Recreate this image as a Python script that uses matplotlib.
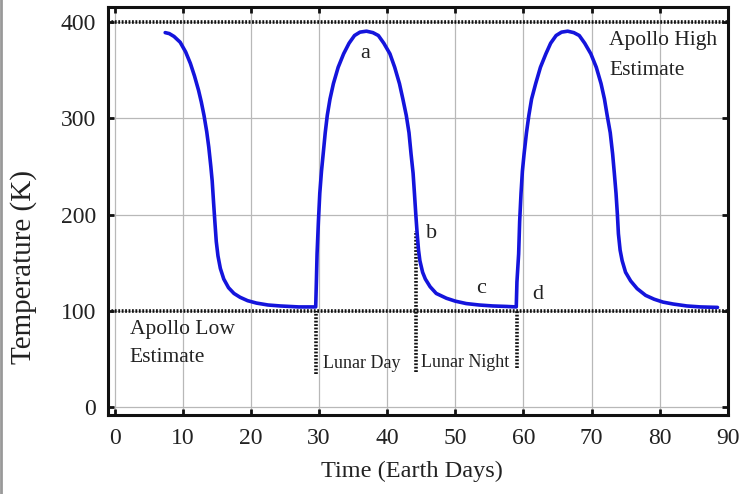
import matplotlib
matplotlib.use("Agg")
import matplotlib.pyplot as plt
from matplotlib.lines import Line2D

plt.rcParams['font.family'] = ['Liberation Serif', 'DejaVu Serif']

# surface temperature (day, K)
days = [7.4, 8.0, 8.7, 9.6, 10.4, 11.1, 11.7, 12.3, 12.7, 13.1, 13.5, 13.8, 14.1, 14.3, 14.5, 14.7, 14.9,
        15.15, 15.5, 16.0, 16.7, 17.5, 18.4, 19.5, 20.8, 22.5, 24.3, 27.0, 29.5,
        29.6, 29.7, 29.9, 30.1, 30.35, 30.6, 30.9, 31.2, 31.6, 32.1, 32.8, 33.6, 34.4, 35.2, 36.0, 36.95,
        37.9, 38.7, 39.5, 40.4, 41.1, 41.8, 42.3, 42.8, 43.2, 43.5, 43.8, 44.0, 44.2, 44.4, 44.6, 44.8,
        45.2, 45.6, 46.3, 47.2, 48.7, 50.0, 51.6, 53.5, 55.5, 57.5, 58.95,
        59.05, 59.3, 59.45, 59.65, 59.85, 60.1, 60.45, 60.8, 61.2, 61.8, 62.5, 63.3, 64.0, 64.8, 65.6, 66.5,
        67.4, 68.2, 69.0, 69.9, 70.7, 71.4, 71.9, 72.3, 72.75, 73.1, 73.35, 73.6, 73.8, 73.95, 74.2, 74.5,
        75.0, 75.75, 76.7, 77.95, 79.2, 80.5, 82.0, 84.0, 86.0, 88.5]
temps = [389, 388, 385, 379, 369, 357, 344, 329, 317, 303, 286, 270, 250, 235, 213, 192, 172,
         157, 144, 133, 124, 118, 114, 110.5, 108, 106, 105, 104, 104,
         130, 159, 193, 222, 245, 263, 285, 303, 320, 336, 353, 367, 378, 386, 389.5, 390.5,
         389, 386, 378, 367, 353, 336, 320, 303, 285, 263, 243, 222, 200, 180, 163, 152,
         140, 133, 125, 118, 113, 110, 107.5, 106, 105, 104.5, 104,
         130, 159, 193, 222, 245, 263, 285, 303, 320, 336, 353, 367, 378, 386, 389.5, 390.5,
         389, 386, 378, 367, 353, 336, 320, 303, 285, 263, 243, 222, 200, 180, 163, 152,
         140, 131, 123, 116, 112, 109, 107, 105, 104, 103.5]

apollo_high = 400
apollo_low = 100
# vertical markers: day, top, bottom
markers_x = [29.5, 44.3, 59.0]
markers_top = [100, 183, 100]
markers_bot = [34, 36, 41]

xticks = list(range(0, 91, 10))
yticks = [0, 100, 200, 300, 400]

fig = plt.figure(figsize=(7.45, 4.94), dpi=100)
ax = fig.add_axes([0.1454, 0.1599, 0.9768 - 0.1454, 0.9852 - 0.1599])

ax.set_xlim(-0.95, 90)
ax.set_ylim(-8.3, 415.3)
ax.set_xticks(xticks)
ax.set_yticks(yticks)
ax.grid(True, color='#b8b8b8', lw=0.9)
ax.set_axisbelow(True)

dots = (0, (0.5, 0.45))
ax.axhline(apollo_high, color='#111111', lw=2.6, ls=dots, zorder=3)
ax.axhline(apollo_low, color='#111111', lw=2.6, ls=dots, zorder=3)
for mx, mt, mb in zip(markers_x, markers_top, markers_bot):
    ax.plot([mx, mx], [mb, mt], color='#111111', lw=2.6, ls=dots, zorder=3)

ax.plot(days, temps, color='#1414dc', lw=2.6, zorder=4,
        solid_capstyle='round', solid_joinstyle='round')

txt = '#222222'
ax.text(2.2, 81, "Apollo Low", fontsize=15.5, color=txt, va='center')
ax.text(2.2, 51, "Estimate", fontsize=15.5, color=txt, va='center')
ax.text(72.6, 381, "Apollo High", fontsize=15.5, color=txt, va='center')
ax.text(72.6, 350, "Estimate", fontsize=15.5, color=txt, va='center')
ax.text(30.5, 45, "Lunar Day", fontsize=13, color=txt, va='center')
ax.text(45.0, 46, "Lunar Night", fontsize=13, color=txt, va='center')
ax.text(36.7, 367, "a", fontsize=16, color=txt, ha='center', va='center')
ax.text(46.5, 180, "b", fontsize=16, color=txt, ha='center', va='center')
ax.text(53.8, 123, "c", fontsize=16, color=txt, ha='center', va='center')
ax.text(62.1, 117, "d", fontsize=16, color=txt, ha='center', va='center')

for s in ax.spines.values():
    s.set_linewidth(2.2)
    s.set_color('#111111')
ax.tick_params(direction='in', length=4, width=2, top=True, right=True,
               labelsize=17, labelcolor=txt, color='#111111')
ax.tick_params(axis='x', pad=9)
ax.tick_params(axis='y', pad=9)
ax.set_xlabel("Time (Earth Days)", fontsize=17.5, color=txt)
ax.set_ylabel("Temperature (K)", fontsize=21, color=txt)
ax.xaxis.set_label_coords(0.49, -0.112)
ax.yaxis.set_label_coords(-0.115, 0.363)

fig.add_artist(Line2D([0.002, 0.002], [0, 1], color='#999999', lw=2, transform=fig.transFigure))

fig.savefig("out.png", dpi=100)
